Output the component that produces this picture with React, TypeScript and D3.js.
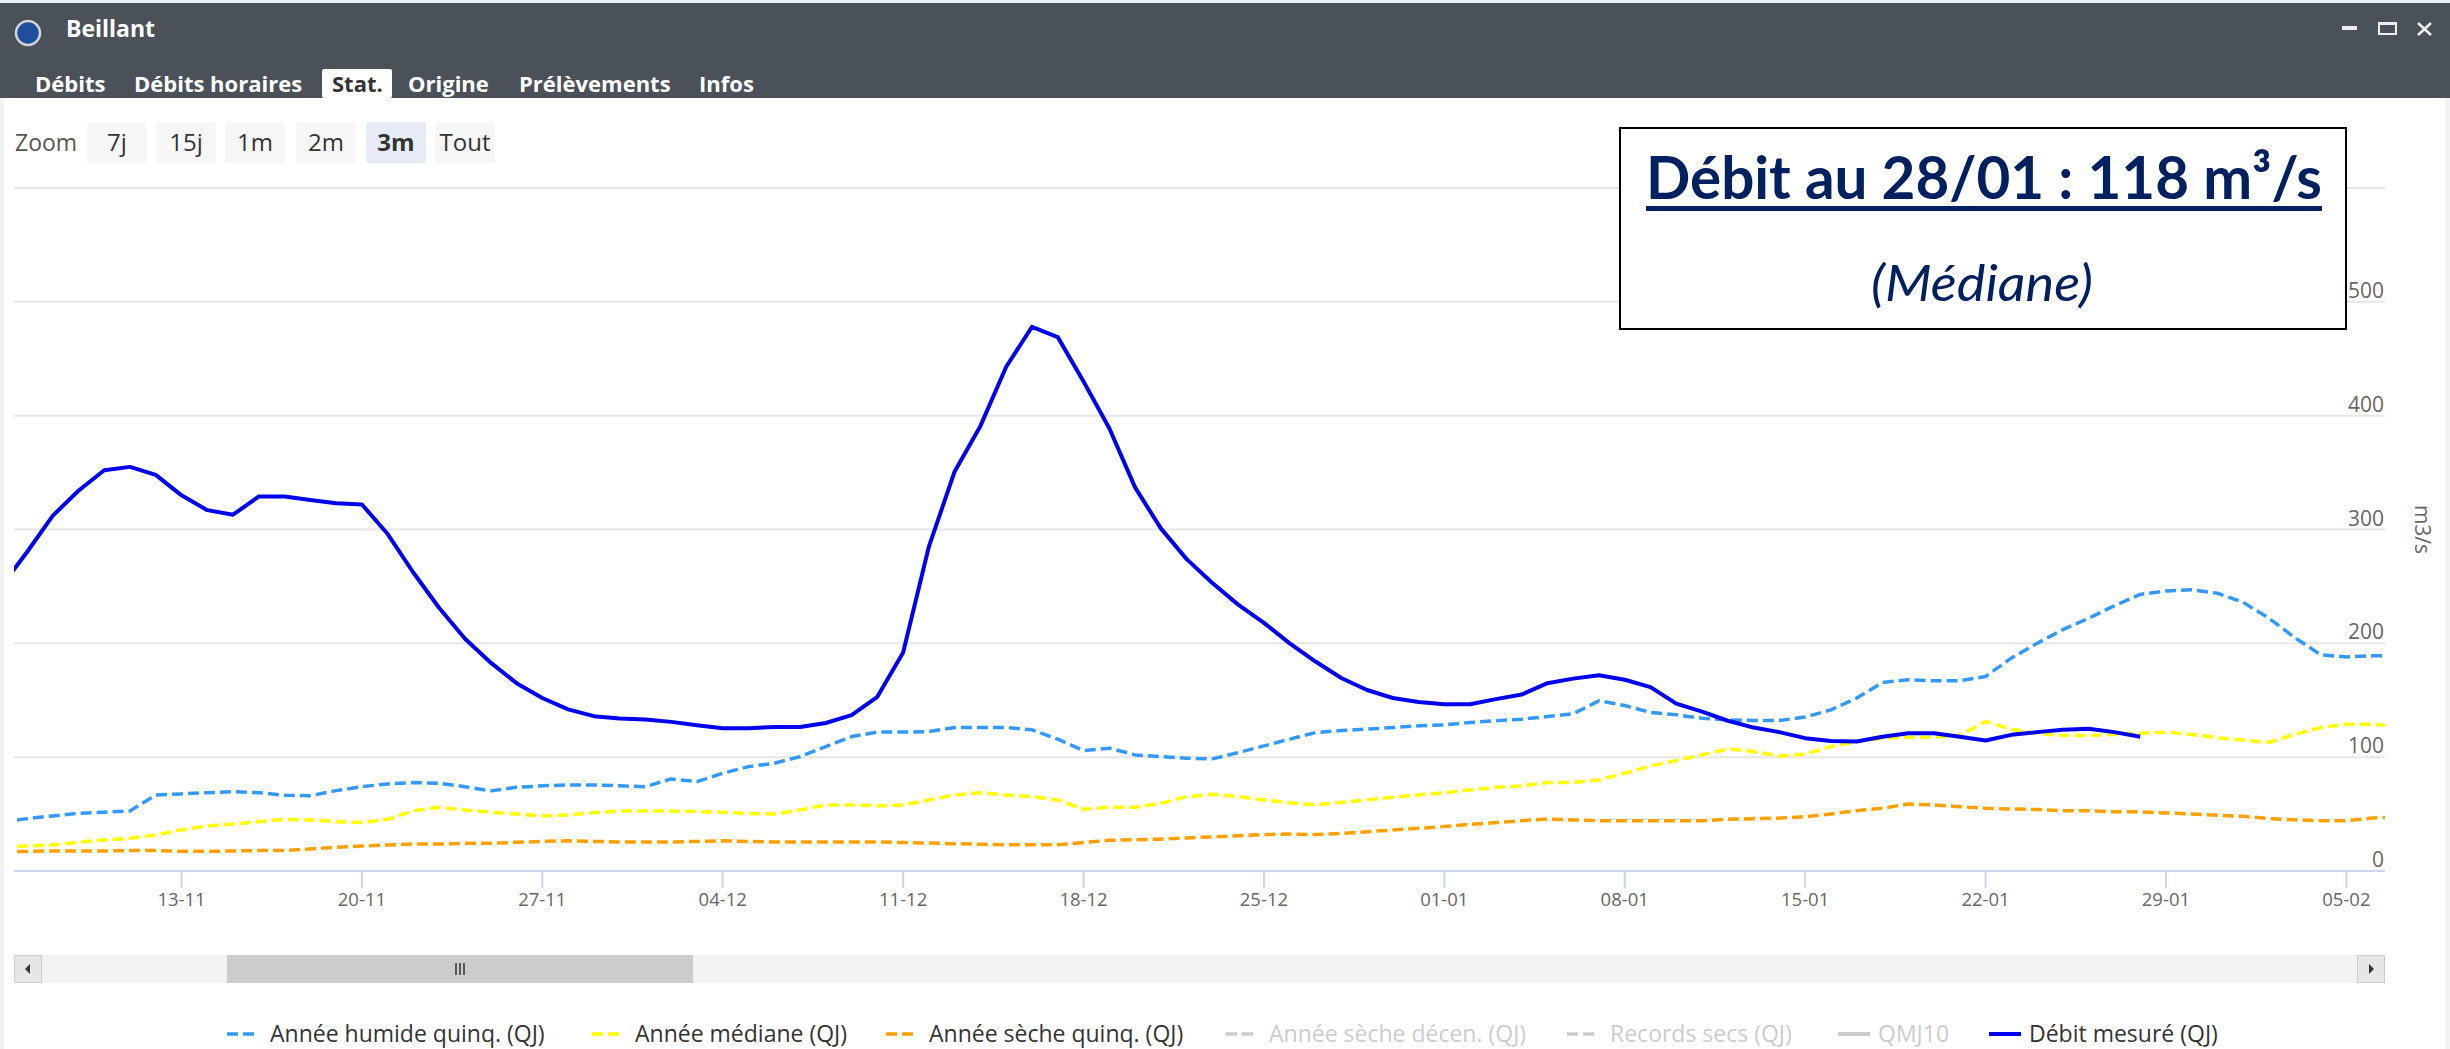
import React from "react";
import * as d3 from "d3";

// ---------- DATA ----------
const seriesStart = new Date(2023, 10, 6); // 6 Nov

// Débit mesuré (QJ) : 06/11 -> 28/01
const debitMesure = [
  250, 280, 312, 334, 352, 355, 348, 330, 317, 313, 329, 329, 326, 323, 322, 296, 262, 231, 204, 183,
  165, 152, 142, 136, 134, 133, 131, 128, 125.5, 125.5, 126.5, 126.5, 130, 137, 153, 192, 285, 351, 391, 443,
  478, 469, 430, 389, 337, 301, 274, 253, 234, 218, 200, 184, 169.5, 159, 152, 148.5, 146.5, 146.5, 151, 155,
  165, 169, 172, 168, 161.5, 147, 140, 132, 126, 122, 116.7, 114.3, 113.7, 118, 121, 121, 118, 114.6, 119.6, 122,
  124, 125, 122, 118,
];

// Année humide quinq. (QJ) : 06/11 -> 07/02
const anneeHumide = [
  43, 46, 48.4, 50.7, 51.6, 52.8, 66.8, 67.7, 68.8, 69.7, 68.8, 66.5, 66.2, 70.6, 74.1, 76.5, 77.7, 77, 74.1, 70.4,
  73.5, 74.8, 75.6, 75.6, 74.8, 74.1, 80.9, 78.5, 85.9, 91.7, 94.6, 100.5, 109.3, 118.1, 122, 122, 122.5, 126, 126, 126,
  124, 115.8, 105.8, 107.9, 102, 100.5, 99.1, 98.5, 104, 109.9, 115.8, 121.6, 123.4, 124.6, 126, 127.5, 128.4, 130.4, 132, 133.4,
  135.7, 138.1, 149.5, 145.4, 139.2, 137.2, 134.2, 132.8, 132.2, 132.2, 135.2, 141.6, 151.9, 165.6, 168, 167.1, 167.1, 170.9, 187, 200,
  212, 222, 233, 243, 246, 247, 244, 236, 222, 205, 190, 188, 189, 189,
];

// Année médiane (QJ) : 06/11 -> 07/02
const anneeMediane = [
  21, 22, 22.9, 25.2, 27.3, 28.7, 31.7, 36.1, 39.6, 41.3, 43.3, 45.4, 44.9, 43.3, 42.5, 45.4, 53, 56, 53.6, 51.6,
  50, 48.4, 49.3, 51.2, 52.8, 52.8, 52.8, 52.2, 51.6, 50.6, 50.1, 53.6, 58, 58, 57.4, 58, 62.4, 66.8, 68.8, 66.8,
  65.3, 62.4, 54.2, 56, 56, 59.5, 65.3, 67.4, 65.3, 62.4, 60, 58, 60.3, 62.4, 64.7, 66.8, 68.8, 71.2, 73.6, 74.8,
  77.7, 77.7, 80, 85.9, 92.3, 97, 102, 107.3, 104.9, 101.1, 102.6, 109.3, 113.7, 116.7, 117.6, 117.6, 119, 131.3, 124.6, 121,
  119, 119, 120, 121, 122, 120, 117, 115, 113, 120, 126, 129, 129, 127,
];

// Année sèche quinq. (QJ) : 06/11 -> 07/02
const anneeSeche = [
  17, 17.2, 17.6, 17.6, 17.6, 17.9, 17.9, 17.3, 17.3, 17.6, 17.9, 17.9, 19.4, 20.8, 22, 22.9, 23.7, 23.7, 24.3, 24.3,
  25.2, 26, 26.5, 26, 25.5, 25.5, 25.5, 26, 26.5, 26, 25.5, 25.5, 25.5, 25.5, 25.5, 25, 24.5, 24, 23.5, 23,
  23, 23, 25, 27, 27.5, 28, 29, 30, 31, 32, 32.5, 32, 33, 34.5, 36, 37.5, 39, 41, 42.5, 44.2,
  45.7, 44.9, 44.2, 44.2, 44.2, 44.2, 44.2, 45.4, 46, 46.5, 47.7, 50.1, 53, 55.1, 58.9, 58, 56.5, 55.1, 54.5, 54,
  53, 53, 52, 52, 51, 50, 49, 48, 46, 45, 44.2, 44.2, 46.5, 47.5,
];

const yTickValues = [0, 100, 200, 300, 400, 500];
const yGridValues = [100, 200, 300, 400, 500, 600];

const tabLabels = ["Débits", "Débits horaires", "Stat.", "Origine", "Prélèvements", "Infos"];
const zoomLabels = ["7j", "15j", "1m", "2m", "3m", "Tout"];

const legendNames = [
  "Année humide quinq. (QJ)",
  "Année médiane (QJ)",
  "Année sèche quinq. (QJ)",
  "Année sèche décen. (QJ)",
  "Records secs (QJ)",
  "QMJ10",
  "Débit mesuré (QJ)",
];

// ---------- STYLE / LAYOUT ----------
const W = 2450;
const H = 1049;
const FONT = "'Open Sans', 'Noto Sans', sans-serif";
const colors = {
  humide: "#3399ff",
  mediane: "#ffff00",
  seche: "#ff9f00",
  mesure: "#0000f0",
  hidden: "#cccccc",
  navy: "#002060",
};
const legendStyles = [
  { color: colors.humide, dashed: true, visible: true },
  { color: colors.mediane, dashed: true, visible: true },
  { color: colors.seche, dashed: true, visible: true },
  { color: colors.hidden, dashed: true, visible: false },
  { color: colors.hidden, dashed: true, visible: false },
  { color: colors.hidden, dashed: false, visible: false },
  { color: colors.mesure, dashed: false, visible: true },
];
const legendX = [227, 592, 886, 1226, 1567, 1838, 1989];
const tabX = [35, 134, 332, 408, 519, 699];
const zoomBoxX = [87, 156, 225, 296, 366, 435];

const plot = { left: 14, right: 2385, top: 188, bottom: 871 };

const dates = (n: number) => d3.range(n).map((i) => d3.timeDay.offset(seriesStart, i));

export default function App() {
  const x = d3
    .scaleTime()
    .domain([new Date(2023, 10, 6, 12), new Date(2024, 1, 6, 12)])
    .range([plot.left, plot.right]);
  const y = d3.scaleLinear().domain([0, 600]).range([plot.bottom, plot.top]);

  const mk = (vals: number[]) => {
    const ds = dates(vals.length);
    return d3
      .line<number>()
      .x((_, i) => x(ds[i]))
      .y((v) => y(v))(vals) as string;
  };

  const xTicks = x.ticks(d3.timeMonday.every(1) as any);
  const fmt = d3.timeFormat("%d-%m");

  const dash = "11,5";

  return (
    <div style={{ position: "absolute", left: 0, top: 0 }}>
      <svg width={W} height={H} xmlns="http://www.w3.org/2000/svg" style={{ display: "block", background: "#fff" }}>
        <defs>
          <clipPath id="plotclip">
            <rect x={plot.left} y={plot.top - 40} width={plot.right - plot.left} height={plot.bottom - plot.top + 42} />
          </clipPath>
        </defs>
        {/* page edges */}
        <rect x={0} y={0} width={W} height={3} fill="#e9f0f5" />
        <rect x={0} y={98} width={4} height={H - 98} fill="#f3f3f3" />
        <rect x={2445} y={98} width={5} height={H - 98} fill="#f3f3f3" />
        {/* header */}
        <rect x={0} y={3} width={W} height={95} fill="#4b5159" />
        <circle cx={28} cy={33} r={12} fill="#1f4e9d" stroke="#d4d4d4" strokeWidth={2.5} />
        <text x={66} y={37} fill="#fff" fontFamily={FONT} fontWeight={700} fontSize={23}>
          Beillant
        </text>
        {/* window controls */}
        <rect x={2342} y={26} width={15} height={4} fill="#eee" />
        <rect x={2379} y={23} width={17} height={11} fill="none" stroke="#eee" strokeWidth={2} />
        <rect x={2379} y={22} width={17} height={3} fill="#eee" />
        <path d="M2418,23 L2431,35 M2431,23 L2418,35" stroke="#eee" strokeWidth={2.5} />
        {/* tabs */}
        <rect x={322} y={69} width={70} height={29} fill="#fff" rx={2} />
        {tabLabels.map((t, i) => (
          <text
            key={t}
            x={tabX[i]}
            y={92}
            fill={i === 2 ? "#333" : "#fff"}
            fontFamily={FONT}
            fontWeight={700}
            fontSize={22}
          >
            {t}
          </text>
        ))}
        {/* zoom buttons */}
        <text x={15} y={151} fill="#555" fontFamily={FONT} fontSize={23}>
          Zoom
        </text>
        {zoomLabels.map((t, i) => (
          <g key={t}>
            <rect x={zoomBoxX[i]} y={122} width={60} height={41} rx={2} fill={i === 4 ? "#e6ebf5" : "#f7f7f7"} />
            <text
              x={zoomBoxX[i] + 30}
              y={151}
              textAnchor="middle"
              fill="#333"
              fontFamily={FONT}
              fontSize={24}
              fontWeight={i === 4 ? 700 : 400}
            >
              {t}
            </text>
          </g>
        ))}

        {/* grid */}
        {yGridValues.map((v) => (
          <line key={v} x1={plot.left} x2={plot.right} y1={y(v)} y2={y(v)} stroke="#e6e6e6" strokeWidth={2} />
        ))}
        {/* y labels */}
        {yTickValues.map((v) => (
          <text key={v} x={2384} y={y(v) - 4} textAnchor="end" fill="#666" fontFamily={FONT} fontSize={21}>
            {v}
          </text>
        ))}
        <text
          transform={`translate(2415,${y(300)}) rotate(90)`}
          textAnchor="middle"
          fill="#666"
          fontFamily={FONT}
          fontSize={21}
        >
          m3/s
        </text>

        {/* x axis */}
        <line x1={plot.left} x2={plot.right} y1={plot.bottom} y2={plot.bottom} stroke="#ccd6eb" strokeWidth={2} />
        {xTicks.map((d) => (
          <g key={+d}>
            <line x1={x(d)} x2={x(d)} y1={plot.bottom} y2={plot.bottom + 17} stroke="#ccd6eb" strokeWidth={2} />
            <text x={x(d)} y={906} textAnchor="middle" fill="#666" fontFamily={FONT} fontSize={18.5}>
              {fmt(d)}
            </text>
          </g>
        ))}

        {/* series */}
        <g clipPath="url(#plotclip)" fill="none" strokeLinejoin="round">
          <path d={mk(anneeHumide)} stroke={colors.humide} strokeWidth={3.5} strokeDasharray={dash} />
          <path d={mk(anneeMediane)} stroke={colors.mediane} strokeWidth={3.5} strokeDasharray={dash} />
          <path d={mk(anneeSeche)} stroke={colors.seche} strokeWidth={3.5} strokeDasharray={dash} />
          <path d={mk(debitMesure)} stroke={colors.mesure} strokeWidth={4} />
        </g>

        {/* annotation box */}
        <rect x={1620} y={128} width={726} height={201} fill="#fff" stroke="#000" strokeWidth={2} />
        <text
          x={1646}
          y={199}
          fill={colors.navy}
          fontFamily="Lato, 'Open Sans', sans-serif"
          fontWeight={700}
          fontSize={60}
          textLength={676}
          lengthAdjust="spacingAndGlyphs"
        >
          Débit au 28/01 : 118 m³/s
        </text>
        <rect x={1646} y={206} width={676} height={5} fill={colors.navy} />
        <text
          x={1871}
          y={301}
          fill={colors.navy}
          fontFamily="Lato, 'Open Sans', sans-serif"
          fontStyle="italic"
          fontSize={50}
          textLength={222}
          lengthAdjust="spacingAndGlyphs"
        >
          (Médiane)
        </text>

        {/* scrollbar */}
        <rect x={14} y={955} width={2370} height={28} fill="#f2f2f2" />
        <rect x={227} y={955} width={466} height={28} fill="#cccccc" />
        {[-4, 0, 4].map((o) => (
          <line key={o} x1={460 + o} x2={460 + o} y1={963} y2={975} stroke="#333" strokeWidth={1.5} />
        ))}
        <rect x={14.5} y={955.5} width={27} height={27} fill="#e6e6e6" stroke="#cccccc" />
        <path d="M30,964 L25,969 L30,974 Z" fill="#333" />
        <rect x={2357.5} y={955.5} width={27} height={27} fill="#e6e6e6" stroke="#cccccc" />
        <path d="M2369,964 L2374,969 L2369,974 Z" fill="#333" />

        {/* legend */}
        {legendNames.map((name, i) => {
          const s = legendStyles[i];
          const lx = legendX[i];
          return (
            <g key={name}>
              <line
                x1={lx}
                x2={lx + (s.dashed ? 27 : 32)}
                y1={1034}
                y2={1034}
                stroke={s.color}
                strokeWidth={s.dashed ? 3.5 : 4}
                strokeDasharray={s.dashed ? "11,5" : undefined}
              />
              <text
                x={lx + (s.dashed ? 43 : 40)}
                y={1042}
                fill={s.visible ? "#333" : "#cccccc"}
                fontFamily={FONT}
                fontSize={23}
              >
                {name}
              </text>
            </g>
          );
        })}
      </svg>
    </div>
  );
}
